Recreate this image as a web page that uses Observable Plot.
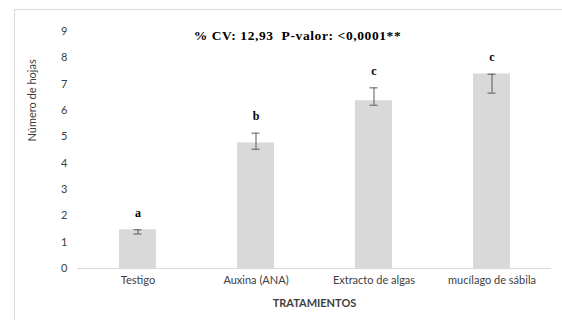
<!DOCTYPE html>
<html>
<head>
<meta charset="utf-8">
<script src="https://cdn.jsdelivr.net/npm/d3@7"></script>
<script src="https://cdn.jsdelivr.net/npm/@observablehq/plot@0.6"></script>
<style>
  html, body { margin: 0; padding: 0; background: #fff; width: 562px; height: 320px; overflow: hidden; }
  #frame { position: absolute; left: 14px; top: 9px; width: 620px; height: 400px; border: 1px solid #d9d9d9; box-sizing: border-box; }
  #chart { position: absolute; left: 0; top: 0; }
</style>
</head>
<body>
<div id="frame"></div>
<div id="chart"></div>
<script>
const categories = ["Testigo", "Auxina (ANA)", "Extracto de algas", "mucílago de sábila"];
const means = [1.47, 4.77, 6.37, 7.39];
const errLow = [1.31, 4.53, 6.20, 6.66];
const errHigh = [1.47, 5.14, 6.86, 7.38];
const letters = ["a", "b", "c", "c"];
const yTicks = [0, 1, 2, 3, 4, 5, 6, 7, 8, 9];
const title = "% CV: 12,93\u00a0\u00a0P-valor: <0,0001**";
const xTitle = "TRATAMIENTOS";
const yTitle = "Número de hojas";

const data = categories.map((c, i) => ({cat: c, v: means[i], lo: errLow[i], hi: errHigh[i], let: letters[i]}));

const plot = Plot.plot({
  width: 562,
  height: 320,
  marginTop: 31,
  marginBottom: 52,
  marginLeft: 77,
  marginRight: 11,
  style: {fontFamily: "Lato, sans-serif", fontSize: "11px", color: "#595959", background: "transparent"},
  x: {domain: categories, paddingInner: 0.69, paddingOuter: 0.345, label: null},
  y: {domain: [0, 9], label: null},
  marks: [
    Plot.barY(data, {x: "cat", y: "v", fill: "#d9d9d9"}),
    Plot.ruleY([0], {stroke: "#d9d9d9", strokeWidth: 1}),
    Plot.ruleX(data, {x: "cat", y1: "lo", y2: "hi", stroke: "#595959", strokeWidth: 1}),
    Plot.tickY(data, {x: "cat", y: "lo", stroke: "#595959", insetLeft: 14.5, insetRight: 14.5}),
    Plot.tickY(data, {x: "cat", y: "hi", stroke: "#595959", insetLeft: 14.5, insetRight: 14.5}),
    Plot.text(data, {x: "cat", y: "hi", text: "let", dy: -17, fontFamily: "Liberation Serif, serif", fontWeight: "bold", fontSize: 12, fill: "#000"}),
    Plot.axisX({tickSize: 0, tickPadding: 8, fill: "#404040", fontSize: 11}),
    Plot.axisY({ticks: yTicks, tickSize: 0, tickPadding: 10, fill: "#404040", fontSize: 11}),
    Plot.text([title], {frameAnchor: "top", dx: -17, dy: -1, fontFamily: "Liberation Serif, serif", fontWeight: "bold", fontSize: 13.5, fill: "#000"}),
    Plot.text([xTitle], {frameAnchor: "bottom", dy: 38, fontWeight: "bold", fontSize: 11, fill: "#404040"}),
    Plot.text([yTitle], {frameAnchor: "left", rotate: -90, dx: -45, dy: -8.5, fontSize: 11, fill: "#404040"})
  ]
});
d3.select(plot).selectAll("text").filter(function () { return this.textContent === title; })
  .style("letter-spacing", "0.6px");
document.getElementById("chart").appendChild(plot);
</script>
</body>
</html>
